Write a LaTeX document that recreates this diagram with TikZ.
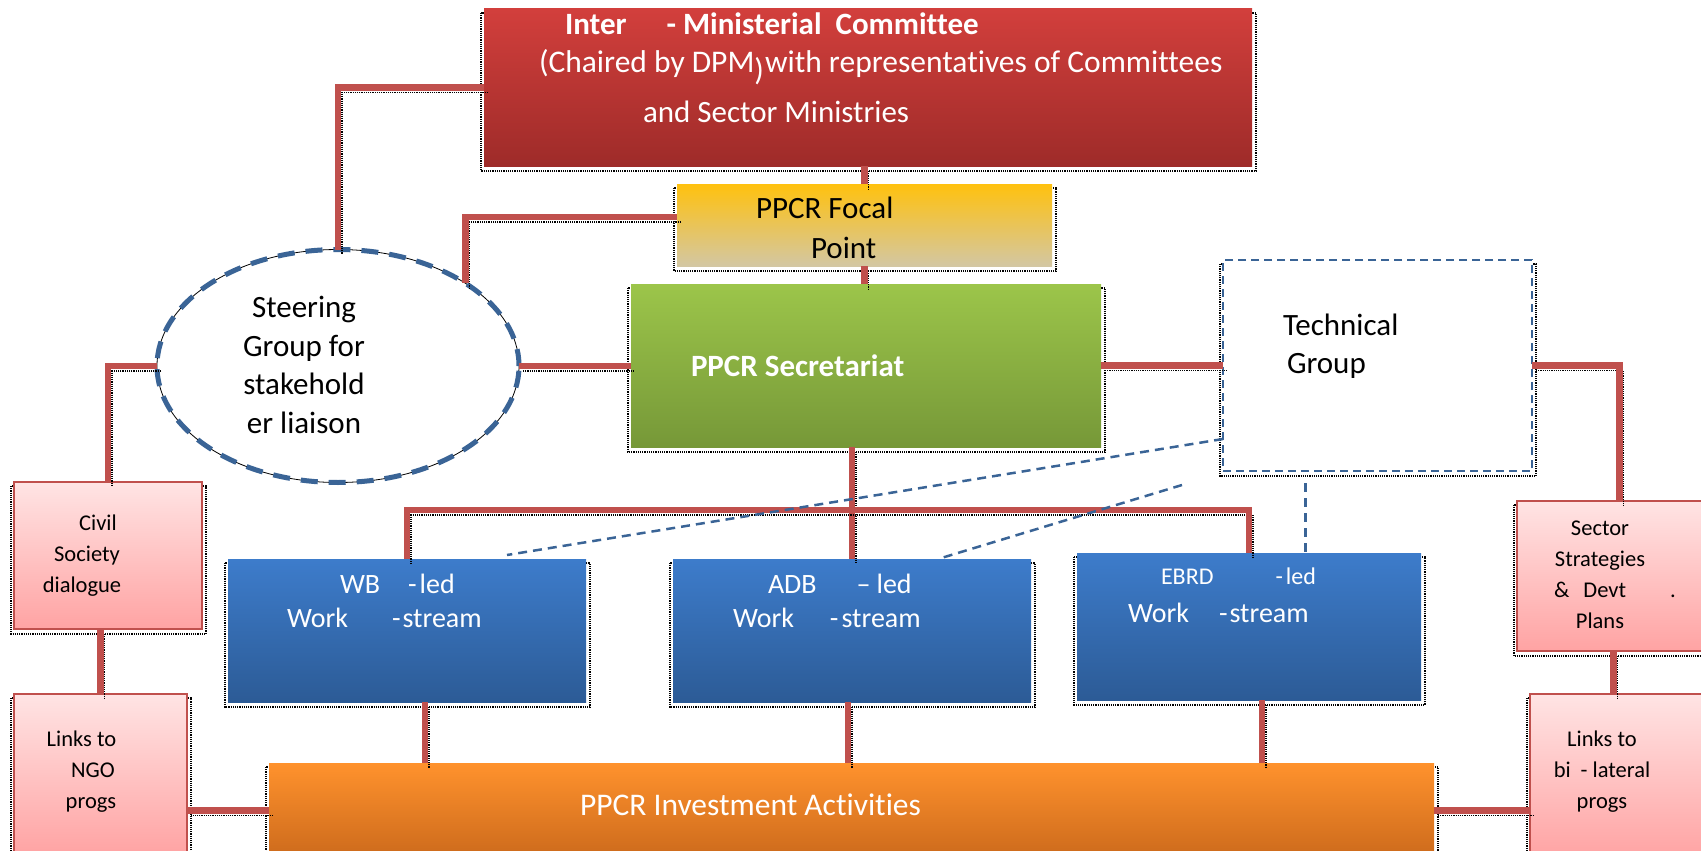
\documentclass[tikz,border=0pt]{standalone}
\usepackage{fontspec}
\setmainfont{Carlito}[Ligatures=NoCommon]
\usetikzlibrary{shapes.geometric,backgrounds}
\definecolor{linkred}{HTML}{C0504D}
\definecolor{imctop}{HTML}{D23F3C}
\definecolor{imcbot}{HTML}{9E2B29}
\definecolor{foctop}{HTML}{FFC10E}
\definecolor{focmid}{HTML}{F0EAD2}
\definecolor{focbot}{HTML}{D3C7A3}
\definecolor{sectop}{HTML}{9CC54A}
\definecolor{secbot}{HTML}{769838}
\definecolor{wstop}{HTML}{3D7CCB}
\definecolor{wsbot}{HTML}{2C5B96}
\definecolor{pinktop}{HTML}{FFE4E4}
\definecolor{pinkbot}{HTML}{FFA3A3}
\definecolor{invtop}{HTML}{FF922D}
\definecolor{invbot}{HTML}{CC6A1C}
\definecolor{tblue}{HTML}{3A6496}
\newcommand{\bigtxt}{\fontsize{31}{40}\selectfont}
\newcommand{\midtxt}{\fontsize{28}{34}\selectfont}
\newcommand{\smalltxt}{\fontsize{22.5}{31}\selectfont}
\begin{document}
\begin{tikzpicture}[x=1pt, y=-1pt, inner sep=0pt, outer sep=0pt, line join=miter,
		link/.style={draw=linkred, line width=6.5pt,
			preaction={draw=black, densely dotted, line width=1.2pt, transform canvas={shift={(4pt,-5pt)}}}},
		tlink/.style={draw=tblue, line width=2.5pt, dash pattern=on 9pt off 6pt},
		boxshadow/.style={draw=black, densely dotted, line width=1.2pt},
		imcbox/.style={rectangle, top color=imctop, bottom color=imcbot},
		focbox/.style={rectangle, top color=foctop, middle color=focmid, bottom color=focbot},
		secbox/.style={rectangle, top color=sectop, bottom color=secbot},
		wsbox/.style={rectangle, top color=wstop, bottom color=wsbot},
		pinkbox/.style={rectangle, draw=linkred, line width=2.5pt, top color=pinktop, bottom color=pinkbot},
		invbox/.style={rectangle, top color=invtop, bottom color=invbot},
		techbox/.style={rectangle, fill=white, draw=tblue, line width=2pt, dash pattern=on 8pt off 5pt},
		steerell/.style={ellipse, fill=white, draw=black, line width=0.8pt,
			postaction={draw=tblue, line width=5pt, dash pattern=on 17pt off 11pt}},
		wtxt/.style={text=white, anchor=west},
		btxt/.style={text=black, anchor=west}]
	\useasboundingbox (0,0) rectangle (1701,851);
	% boxes
	\node[imcbox, minimum width=768pt, minimum height=157pt] (imc) at (868,87.5) {};
	\node[focbox, minimum width=375pt, minimum height=82pt] (focal) at (864.5,225) {};
	\node[secbox, minimum width=470pt, minimum height=163pt] (sec) at (866,365.5) {};
	\node[techbox, minimum width=309pt, minimum height=211pt] (tech) at (1377.5,365.5) {};
	\node[steerell, minimum width=362pt, minimum height=233pt] (steer) at (338,366) {};
	\node[pinkbox, minimum width=188pt, minimum height=147pt] (civil) at (108,555.5) {};
	\node[pinkbox, minimum width=173pt, minimum height=161pt] (ngo) at (100.5,774.5) {};
	\node[wsbox, minimum width=358pt, minimum height=143pt] (wb) at (407,630.5) {};
	\node[wsbox, minimum width=358pt, minimum height=143pt] (adb) at (852,630.5) {};
	\node[wsbox, minimum width=344pt, minimum height=147pt] (ebrd) at (1249,626.5) {};
	\node[pinkbox, minimum width=193pt, minimum height=150pt] (sector) at (1613.5,576) {};
	\node[pinkbox, minimum width=180pt, minimum height=164pt] (bilat) at (1620,776) {};
	\node[invbox, minimum width=1165pt, minimum height=95pt] (invest) at (851.5,810.5) {};
	\begin{pgfonlayer}{background}
		\foreach \n in {imc,focal,sec,tech,civil,ngo,wb,adb,ebrd,sector,bilat,invest}
		\draw[boxshadow] ([shift={(-3pt,-4pt)}]\n.north west) rectangle ([shift={(4pt,-5pt)}]\n.south east);
	\end{pgfonlayer}
	% texts
	\node[wtxt, font=\bigtxt\bfseries] (imc-l1) at (565,24) {Inter\hspace{40pt}-\hspace{7pt}Ministerial\hspace{14pt}Committee};
	\node[wtxt, font=\fontsize{31.5}{40}\selectfont] (imc-l2) at (539,67) {(Chaired by DPM\raisebox{-8pt}{)}\hspace{1pt}with representatives of Committees};
	\node[wtxt, font=\bigtxt] (imc-l3) at (643,112) {and Sector Ministries};
	\node[btxt, font=\bigtxt] (focal-l1) at (756,208) {PPCR Focal};
	\node[btxt, font=\bigtxt] (focal-l2) at (811,248) {Point};
	\node[wtxt, font=\bigtxt\bfseries] (sec-t) at (691,366) {PPCR Secretariat};
	\node[btxt, font=\bigtxt] (tech-l1) at (1283,325) {Technical};
	\node[btxt, font=\bigtxt] (tech-l2) at (1287,366) {Group};
	\node[font=\fontsize{31}{38.5}\selectfont, align=center] (steer-t) at (304,365) {Steering\\Group for\\stakehold\\er liaison};
	\node[font=\smalltxt, align=center] (civil-t) at (87,556) {\hspace*{22pt}Civil\\Society\\dialogue\hspace*{10pt}};
	\node[font=\smalltxt, align=center] (ngo-t) at (88,772) {Links to\hspace*{13pt}\\\hspace*{10pt}NGO\\\hspace*{6pt}progs};
	\node[wtxt, font=\midtxt] (wb-l1) at (340,584) {WB\hspace{28pt}-\hspace{3pt}led};
	\node[wtxt, font=\midtxt] (wb-l2) at (287,618) {Work\hspace{44pt}-\hspace{2pt}stream};
	\node[wtxt, font=\midtxt] (adb-l1) at (768,584) {ADB\hspace{40pt}–\hspace{6pt}led};
	\node[wtxt, font=\midtxt] (adb-l2) at (733,618) {Work\hspace{36pt}-\hspace{3pt}stream};
	\node[wtxt, font=\fontsize{24}{30}\selectfont] (ebrd-l1) at (1161,576) {EBRD\hspace{62pt}-\hspace{3pt}led};
	\node[wtxt, font=\midtxt] (ebrd-l2) at (1128,613) {Work\hspace{30pt}-\hspace{2pt}stream};
	\node[font=\smalltxt, align=center] (sector-t) at (1600,575) {Sector\\Strategies\hspace*{17pt}\\\hspace*{30pt}\&\hspace{14pt}Devt\hspace{44pt}.\\Plans};
	\node[font=\smalltxt, align=center] (bilat-t) at (1602,772) {Links to\\bi\hspace{10pt}- lateral\\progs};
	\node[wtxt, font=\fontsize{31.5}{36}\selectfont] (invest-t) at (580,805) {PPCR Investment Activities};
	% connectors
	\draw[link] (imc.south -| focal.north) -- (focal.north);
	\draw[link] (focal.south) -- (focal.south |- sec.north);
	\draw[link] (imc.west) -| (steer.north);
	\draw[link] ([yshift=8pt]focal.west) -| (steer.33);
	\draw[link] (steer.east) -- (steer.east -| sec.west);
	\draw[link] (sec.east) -- (tech.west);
	\draw[link] (tech.east) -| ([xshift=6pt]sector.north);
	\draw[link] (steer.west) -| (civil.north);
	\draw[link] (civil.south -| ngo.north) -- (ngo.north);
	\draw[link] (invest.west) -- (invest.west -| ngo.east);
	\draw[link] (invest.east) -- (invest.east -| bilat.west);
	\draw[link] (sector.south) -- (sector.south |- bilat.north);
	\coordinate (hub) at (852,510);
	\draw[link] (sec.south -| hub) -- (hub) -- (adb.north);
	\draw[link] (wb.north) |- (hub) -| (ebrd.north);
	\coordinate (wbdrop) at ([xshift=18pt]wb.south);
	\coordinate (adbdrop) at ([xshift=-4pt]adb.south);
	\coordinate (ebrddrop) at ([xshift=13pt]ebrd.south);
	\foreach \d in {wbdrop,adbdrop,ebrddrop}
	\draw[link] (\d) -- (\d |- invest.north);
	% technical group links
	\coordinate (tfree) at (1182,485);
	\coordinate (tdrop) at ([xshift=-72pt,yshift=-12pt]tech.south);
	\draw[tlink] ([yshift=-73.5pt]tech.west) -- ([xshift=100pt,yshift=4pt]wb.north);
	\draw[tlink] (tfree) -- ([xshift=86pt]adb.north);
	\draw[tlink] (tdrop) -- (tdrop |- ebrd.north);
\end{tikzpicture}
\end{document}
